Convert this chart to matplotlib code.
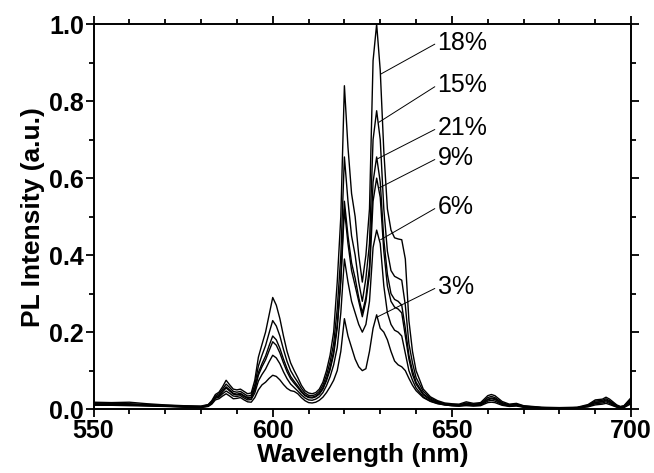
import numpy as np
import matplotlib
matplotlib.use("Agg")
import matplotlib.pyplot as plt
from matplotlib.ticker import MultipleLocator

# wavelength grid (nm)
wl = [550, 555, 560, 565, 570, 575, 580, 582, 583, 584, 585, 586, 587, 588, 589,
      590, 591, 592, 593, 594, 595, 596, 597, 598, 599, 600, 601, 602, 603, 604,
      605, 606, 607, 608, 609, 610, 611, 612, 613, 614, 615, 616, 617, 618, 619,
      620, 621, 622, 623, 624, 625, 626, 627, 628, 629, 630, 631, 632, 633, 634,
      635, 636, 637, 638, 639, 640, 642, 644, 646, 648, 650, 652, 654, 656, 658,
      660, 661, 662, 664, 666, 668, 670, 675, 680, 685, 688, 690, 692, 693, 694,
      696, 697, 698, 700]

pl_18 = [0.018, 0.017, 0.018, 0.014, 0.011, 0.009, 0.008, 0.012, 0.022, 0.038, 0.044, 0.058, 0.075, 0.063, 0.052,
         0.050, 0.052, 0.046, 0.040, 0.042, 0.075, 0.135, 0.168, 0.200, 0.245, 0.290, 0.270, 0.235, 0.190, 0.150,
         0.120, 0.100, 0.082, 0.062, 0.048, 0.042, 0.040, 0.043, 0.052, 0.070, 0.100, 0.140, 0.200, 0.330, 0.500,
         0.840, 0.680, 0.560, 0.500, 0.400, 0.330, 0.400, 0.520, 0.905, 1.000, 0.880, 0.670, 0.520, 0.465, 0.445,
         0.442, 0.440, 0.390, 0.230, 0.150, 0.100, 0.052, 0.032, 0.022, 0.016, 0.014, 0.013, 0.019, 0.015, 0.017,
         0.035, 0.038, 0.035, 0.020, 0.013, 0.015, 0.009, 0.005, 0.004, 0.005, 0.012, 0.024, 0.026, 0.031, 0.026,
         0.011, 0.007, 0.009, 0.030]

pl_15 = [0.016, 0.015, 0.014, 0.012, 0.010, 0.008, 0.007, 0.011, 0.020, 0.034, 0.040, 0.052, 0.065, 0.056, 0.046,
         0.044, 0.046, 0.040, 0.034, 0.036, 0.063, 0.112, 0.140, 0.165, 0.198, 0.230, 0.216, 0.190, 0.155, 0.124,
         0.100, 0.084, 0.070, 0.054, 0.042, 0.036, 0.035, 0.038, 0.046, 0.062, 0.088, 0.122, 0.170, 0.260, 0.400,
         0.655, 0.540, 0.450, 0.400, 0.330, 0.280, 0.340, 0.430, 0.700, 0.775, 0.700, 0.520, 0.410, 0.360, 0.345,
         0.340, 0.335, 0.270, 0.170, 0.120, 0.082, 0.046, 0.029, 0.020, 0.014, 0.012, 0.011, 0.016, 0.013, 0.015,
         0.030, 0.033, 0.030, 0.017, 0.011, 0.013, 0.008, 0.004, 0.003, 0.004, 0.010, 0.021, 0.023, 0.027, 0.022,
         0.009, 0.006, 0.008, 0.026]

pl_21 = [0.014, 0.013, 0.013, 0.011, 0.009, 0.007, 0.006, 0.010, 0.018, 0.031, 0.036, 0.047, 0.058, 0.050, 0.041,
         0.039, 0.041, 0.035, 0.030, 0.031, 0.054, 0.095, 0.118, 0.138, 0.165, 0.190, 0.180, 0.158, 0.130, 0.105,
         0.085, 0.072, 0.060, 0.047, 0.037, 0.032, 0.031, 0.034, 0.041, 0.055, 0.078, 0.108, 0.150, 0.220, 0.340,
         0.540, 0.450, 0.380, 0.340, 0.290, 0.250, 0.290, 0.370, 0.590, 0.655, 0.590, 0.440, 0.350, 0.300, 0.285,
         0.280, 0.270, 0.210, 0.140, 0.100, 0.070, 0.040, 0.026, 0.018, 0.013, 0.011, 0.010, 0.014, 0.012, 0.013,
         0.026, 0.029, 0.027, 0.015, 0.010, 0.012, 0.007, 0.004, 0.003, 0.004, 0.009, 0.018, 0.020, 0.024, 0.020,
         0.008, 0.005, 0.007, 0.023]

pl_9 = [0.013, 0.012, 0.012, 0.010, 0.008, 0.007, 0.006, 0.009, 0.017, 0.030, 0.034, 0.045, 0.055, 0.047, 0.039,
        0.037, 0.039, 0.033, 0.028, 0.029, 0.050, 0.088, 0.110, 0.128, 0.152, 0.175, 0.166, 0.146, 0.120, 0.097,
        0.079, 0.067, 0.056, 0.044, 0.035, 0.030, 0.029, 0.032, 0.039, 0.052, 0.074, 0.102, 0.142, 0.210, 0.330,
        0.520, 0.430, 0.360, 0.320, 0.280, 0.240, 0.280, 0.350, 0.540, 0.600, 0.550, 0.410, 0.320, 0.280, 0.265,
        0.260, 0.250, 0.190, 0.130, 0.090, 0.065, 0.037, 0.024, 0.017, 0.012, 0.010, 0.009, 0.013, 0.011, 0.012,
        0.024, 0.027, 0.025, 0.014, 0.009, 0.011, 0.006, 0.003, 0.003, 0.004, 0.008, 0.017, 0.019, 0.022, 0.018,
        0.007, 0.005, 0.006, 0.021]

pl_6 = [0.012, 0.011, 0.011, 0.009, 0.008, 0.006, 0.005, 0.008, 0.015, 0.028, 0.031, 0.040, 0.047, 0.041, 0.034,
        0.033, 0.035, 0.029, 0.024, 0.025, 0.042, 0.073, 0.090, 0.104, 0.123, 0.140, 0.133, 0.118, 0.097, 0.079,
        0.065, 0.056, 0.047, 0.037, 0.029, 0.024, 0.023, 0.026, 0.032, 0.043, 0.061, 0.084, 0.115, 0.160, 0.250,
        0.390, 0.330, 0.280, 0.250, 0.220, 0.200, 0.220, 0.280, 0.420, 0.465, 0.430, 0.320, 0.250, 0.220, 0.205,
        0.200, 0.190, 0.145, 0.100, 0.075, 0.055, 0.032, 0.021, 0.015, 0.011, 0.009, 0.008, 0.011, 0.009, 0.010,
        0.021, 0.023, 0.021, 0.012, 0.008, 0.010, 0.005, 0.003, 0.002, 0.003, 0.007, 0.014, 0.016, 0.019, 0.015,
        0.006, 0.004, 0.005, 0.018]

pl_3 = [0.010, 0.010, 0.009, 0.008, 0.007, 0.005, 0.004, 0.007, 0.013, 0.024, 0.027, 0.034, 0.040, 0.034, 0.027,
        0.028, 0.030, 0.024, 0.019, 0.018, 0.030, 0.050, 0.063, 0.070, 0.080, 0.088, 0.085, 0.076, 0.064, 0.054,
        0.048, 0.046, 0.040, 0.030, 0.022, 0.017, 0.016, 0.018, 0.023, 0.031, 0.043, 0.058, 0.075, 0.100, 0.150,
        0.235, 0.190, 0.160, 0.130, 0.110, 0.100, 0.105, 0.150, 0.210, 0.245, 0.210, 0.200, 0.180, 0.150, 0.125,
        0.115, 0.110, 0.100, 0.080, 0.062, 0.048, 0.030, 0.020, 0.014, 0.011, 0.009, 0.008, 0.009, 0.008, 0.009,
        0.017, 0.018, 0.017, 0.010, 0.007, 0.008, 0.005, 0.003, 0.002, 0.003, 0.006, 0.011, 0.013, 0.015, 0.012,
        0.005, 0.003, 0.004, 0.014]

series = [pl_3, pl_6, pl_9, pl_15, pl_18, pl_21]

# labels, where the leader line touches the curve, and where the text sits
labels = ["18%", "15%", "21%", "9%", "6%", "3%"]
label_pts = [(630.1, 0.870), (629.6, 0.745), (629.2, 0.650), (629.8, 0.575), (630.1, 0.440), (629.3, 0.240)]
label_txt = [(646, 0.952), (646, 0.842), (646, 0.730), (646, 0.652), (646, 0.525), (646, 0.317)]

plt.rcParams['font.family'] = ['Liberation Sans', 'DejaVu Sans']

fig = plt.figure(figsize=(6.54, 4.73), dpi=100)
ax = fig.add_axes([0.143, 0.135, 0.822, 0.814])

for s in series:
    ax.plot(wl, s, color="black", lw=1.0)

for lab, pt, tp in zip(labels, label_pts, label_txt):
    ax.annotate(lab, xy=pt, xytext=tp, fontsize=18, ha="left", va="center",
                arrowprops=dict(arrowstyle="-", color="black", lw=0.7,
                                shrinkA=0, shrinkB=0, relpos=(0, 0.5)))

ax.set_xlim(550, 700)
ax.set_ylim(0, 1.0)
ax.xaxis.set_major_locator(MultipleLocator(50))
ax.xaxis.set_minor_locator(MultipleLocator(10))
ax.yaxis.set_major_locator(MultipleLocator(0.2))
ax.yaxis.set_minor_locator(MultipleLocator(0.1))
ax.yaxis.set_major_formatter(matplotlib.ticker.FormatStrFormatter("%.1f"))

ax.tick_params(which="both", direction="out", top=True, right=True, width=1.3)
ax.tick_params(which="major", length=6, labelsize=18, pad=1)
ax.tick_params(which="minor", length=3.5)
for lbl in ax.get_xticklabels() + ax.get_yticklabels():
    lbl.set_fontweight("bold")
for sp in ax.spines.values():
    sp.set_linewidth(1.4)

ax.set_xlabel("Wavelength (nm)", fontsize=19, fontweight="bold", labelpad=0)
ax.set_ylabel("PL Intensity (a.u.)", fontsize=19, fontweight="bold", labelpad=3)

fig.savefig("out.png", dpi=100)
